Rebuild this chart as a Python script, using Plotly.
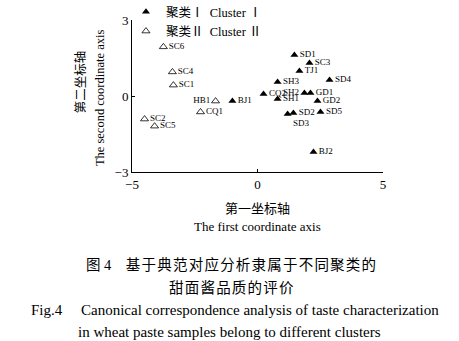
import plotly.graph_objects as go

# Cluster I (filled triangles)
c1_names = ["SD1", "SC3", "TJ1", "SD4", "SH3", "SH2", "GD1", "CQ2", "SH1", "GD2", "SD2", "SD3", "SD5", "BJ2", "BJ1"]
c1_x = [1.47, 2.07, 1.67, 2.87, 0.80, 1.87, 2.11, 0.24, 0.80, 2.39, 1.43, 1.20, 2.51, 2.23, -1.00]
c1_y = [1.62, 1.30, 0.99, 0.63, 0.55, 0.12, 0.12, 0.08, -0.12, -0.20, -0.67, -0.71, -0.63, -2.21, -0.20]
c1_pos = ["middle right", "middle right", "middle right", "middle right", "middle right", "middle left",
          "middle right", "middle right", "middle right", "middle right", "middle right", "bottom right",
          "middle right", "middle right", "middle right"]

# Cluster II (open triangles)
c2_names = ["SC6", "SC4", "SC1", "HB1", "CQ1", "SC2", "SC5"]
c2_x = [-3.75, -3.39, -3.35, -1.67, -2.27, -4.50, -4.10]
c2_y = [1.94, 0.95, 0.43, -0.20, -0.63, -0.91, -1.19]
c2_pos = ["middle right", "middle right", "middle right", "middle left", "middle right", "middle right", "middle right"]

legend_names = ["聚类Ⅰ  Cluster Ⅰ", "聚类Ⅱ  Cluster Ⅱ"]
x_ticks = [-5, 0, 5]
y_ticks = [-3, 0, 3]

serif = "Liberation Serif, Noto Sans CJK SC, serif"
hs = "\u200a"

fig = go.Figure()
fig.add_trace(go.Scatter(
    x=c1_x, y=c1_y, text=c1_names, mode="markers+text", textposition=c1_pos,
    marker=dict(symbol="triangle-up", size=7, color="black"),
    textfont=dict(family=serif, size=9, color="black"),
    name=legend_names[0], cliponaxis=False))
fig.add_trace(go.Scatter(
    x=c2_x, y=c2_y, text=c2_names, mode="markers+text", textposition=c2_pos,
    marker=dict(symbol="triangle-up-open", size=7, color="black", line=dict(width=0.8)),
    textfont=dict(family=serif, size=9, color="black"),
    name=legend_names[1], cliponaxis=False))

fig.update_layout(
    width=459, height=341,
    margin=dict(l=132, r=76, t=20, b=169, autoexpand=False),
    paper_bgcolor="white", plot_bgcolor="white",
    font=dict(family=serif, color="black", size=12),
    showlegend=True,
    legend=dict(x=-0.024, y=1.15, xanchor="left", yanchor="top", bgcolor="rgba(0,0,0,0)",
                font=dict(family=serif, size=12.5), itemwidth=30, tracegroupgap=0),
    xaxis=dict(range=[-5, 5], tickvals=x_ticks, ticktext=["−5", "0", "5"], showgrid=False, zeroline=False,
               showline=True, linecolor="black", linewidth=1, ticks="inside", ticklen=3,
               tickcolor="black", tickfont=dict(size=13), automargin=False),
    yaxis=dict(range=[-3, 3], tickvals=y_ticks, ticktext=["−3", "0", "3"], showgrid=False, zeroline=False,
               showline=True, linecolor="black", linewidth=1, ticks="inside", ticklen=3,
               tickcolor="black", tickfont=dict(size=13), automargin=False),
)

cap1 = "图 4　" + hs.join("基于典范对应分析隶属于不同聚类的")
cap2 = hs.join("甜面酱品质的评价")
ann = [
    dict(text="第一坐标轴", x=0.5, y=-0.24, size=13),
    dict(text="The first coordinate axis", x=0.5, y=-0.36, size=13),
    dict(text=cap1, x=0.395, y=-0.61, size=14.5),
    dict(text=cap2, x=0.397, y=-0.76, size=14.5),
    dict(text="Fig.4　 Canonical correspondence analysis of taste characterization", x=0.41, y=-0.91, size=15),
    dict(text="in wheat paste samples belong to different clusters", x=0.39, y=-1.055, size=15),
]
for a in ann:
    fig.add_annotation(text=a["text"], x=a["x"], y=a["y"], xref="paper", yref="paper",
                       xanchor="center", yanchor="middle", showarrow=False,
                       font=dict(family=serif, size=a["size"], color="black"))
# y axis titles (rotated)
fig.add_annotation(text="第二坐标轴", x=-0.245, y=0.59, xref="paper", yref="paper", textangle=-90,
                   showarrow=False, font=dict(family=serif, size=12.5, color="black"))
fig.add_annotation(text="The second coordinate axis", x=-0.165, y=0.49, xref="paper", yref="paper", textangle=-90,
                   showarrow=False, font=dict(family=serif, size=12.5, color="black"))

fig.write_html("out.html")
